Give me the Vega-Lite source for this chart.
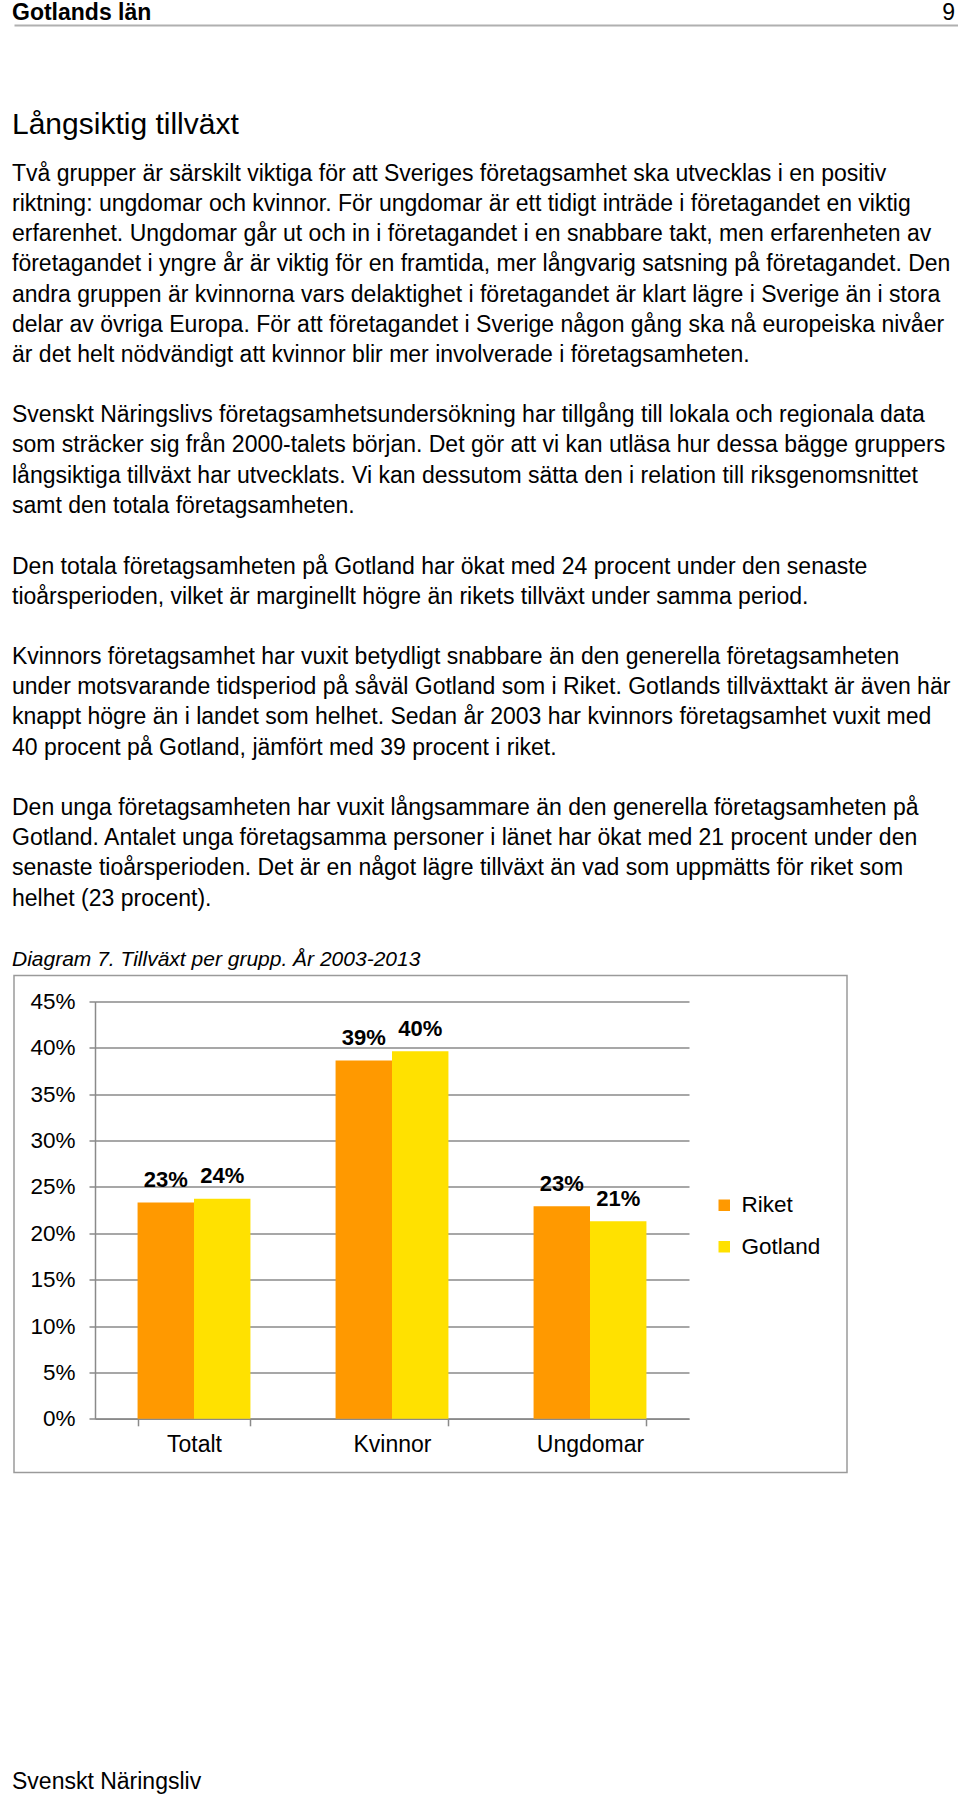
{
  "$schema": "https://vega.github.io/schema/vega-lite/v6.json",
  "background": "white",
  "padding": {"left": 11, "top": 0, "right": 0, "bottom": 0},
  "spacing": 85,
  "config": {
    "font": "Liberation Sans",
    "view": {"stroke": null},
    "title": {"font": "Liberation Sans", "color": "black", "fontWeight": "normal", "anchor": "start", "baseline": "top", "offset": 0}
  },
  "vconcat": [
    {
      "width": 944,
      "height": 25,
      "data": {"values": [{"side": "left", "label": "Gotlands län"}, {"side": "right", "label": "9"}]},
      "encoding": {
        "x": {
          "field": "side", "type": "nominal",
          "scale": {"type": "point", "domain": ["left", "right"], "padding": 0},
          "axis": {"orient": "bottom", "labels": false, "ticks": false, "grid": false, "domain": true, "domainColor": "#b0b0b0", "domainWidth": 2, "title": null}
        },
        "text": {"field": "label"}
      },
      "layer": [
        {"transform": [{"filter": "datum.side === 'left'"}], "mark": {"type": "text", "align": "left", "baseline": "middle", "fontWeight": "bold", "fontSize": 23, "color": "black", "dx": -2}},
        {"transform": [{"filter": "datum.side === 'right'"}], "mark": {"type": "text", "align": "right", "baseline": "middle", "fontSize": 23, "color": "black", "dx": -3}}
      ]
    },
    {
      "spacing": 31.9,
      "vconcat": [
        {
          "width": 944,
          "height": 1,
          "title": {
            "text": "Långsiktig tillväxt",
            "fontSize": 30,
            "dx": -2,
            "subtitle": [
              "Två grupper är särskilt viktiga för att Sveriges företagsamhet ska utvecklas i en positiv",
              "riktning: ungdomar och kvinnor. För ungdomar är ett tidigt inträde i företagandet en viktig",
              "erfarenhet. Ungdomar går ut och in i företagandet i en snabbare takt, men erfarenheten av",
              "företagandet i yngre år är viktig för en framtida, mer långvarig satsning på företagandet. Den",
              "andra gruppen är kvinnorna vars delaktighet i företagandet är klart lägre i Sverige än i stora",
              "delar av övriga Europa. För att företagandet i Sverige någon gång ska nå europeiska nivåer",
              "är det helt nödvändigt att kvinnor blir mer involverade i företagsamheten."
            ],
            "subtitleFont": "Liberation Sans",
            "subtitleFontSize": 23,
            "subtitleColor": "black",
            "subtitleLineHeight": 30.24,
            "subtitlePadding": 22.5
          },
          "data": {"values": []},
          "mark": "rect"
        },
        {
          "width": 944,
          "height": 1,
          "title": {
            "text": [
              "Svenskt Näringslivs företagsamhetsundersökning har tillgång till lokala och regionala data",
              "som sträcker sig från 2000-talets början. Det gör att vi kan utläsa hur dessa bägge gruppers",
              "långsiktiga tillväxt har utvecklats. Vi kan dessutom sätta den i relation till riksgenomsnittet",
              "samt den totala företagsamheten."
            ],
            "fontSize": 23, "lineHeight": 30.24, "dx": -2
          },
          "data": {"values": []},
          "mark": "rect"
        },
        {
          "width": 944,
          "height": 1,
          "title": {
            "text": [
              "Den totala företagsamheten på Gotland har ökat med 24 procent under den senaste",
              "tioårsperioden, vilket är marginellt högre än rikets tillväxt under samma period."
            ],
            "fontSize": 23, "lineHeight": 30.24, "dx": -2
          },
          "data": {"values": []},
          "mark": "rect"
        },
        {
          "width": 944,
          "height": 1,
          "title": {
            "text": [
              "Kvinnors företagsamhet har vuxit betydligt snabbare än den generella företagsamheten",
              "under motsvarande tidsperiod på såväl Gotland som i Riket. Gotlands tillväxttakt är även här",
              "knappt högre än i landet som helhet. Sedan år 2003 har kvinnors företagsamhet vuxit med",
              "40 procent på Gotland, jämfört med 39 procent i riket."
            ],
            "fontSize": 23, "lineHeight": 30.24, "dx": -2
          },
          "data": {"values": []},
          "mark": "rect"
        },
        {
          "width": 944,
          "height": 1,
          "title": {
            "text": [
              "Den unga företagsamheten har vuxit långsammare än den generella företagsamheten på",
              "Gotland. Antalet unga företagsamma personer i länet har ökat med 21 procent under den",
              "senaste tioårsperioden. Det är en något lägre tillväxt än vad som uppmätts för riket som",
              "helhet (23 procent)."
            ],
            "fontSize": 23, "lineHeight": 30.24, "dx": -2
          },
          "data": {"values": []},
          "mark": "rect"
        },
        {
          "width": 833,
          "height": 497,
          "view": {"stroke": "#9a9a9a", "strokeWidth": 1.5},
          "title": {
            "text": "Diagram 7. Tillväxt per grupp. År 2003-2013",
            "fontSize": 21,
            "fontStyle": "italic",
            "offset": 6,
            "dx": -2
          },
          "data": {
            "values": [
              {"grupp": "Totalt", "serie": "Riket", "tillvaxt": 0.233},
              {"grupp": "Totalt", "serie": "Gotland", "tillvaxt": 0.237},
              {"grupp": "Kvinnor", "serie": "Riket", "tillvaxt": 0.386},
              {"grupp": "Kvinnor", "serie": "Gotland", "tillvaxt": 0.396},
              {"grupp": "Ungdomar", "serie": "Riket", "tillvaxt": 0.229},
              {"grupp": "Ungdomar", "serie": "Gotland", "tillvaxt": 0.213}
            ]
          },
          "encoding": {
            "x": {
              "field": "grupp", "type": "nominal",
              "sort": ["Totalt", "Kvinnor", "Ungdomar"],
              "scale": {"domain": ["Totalt", "Kvinnor", "Ungdomar"], "range": [81, 675], "paddingInner": 0.43, "paddingOuter": 0.215},
              "axis": {
                "orient": "bottom", "offset": -53.7, "title": null, "labelAngle": 0,
                "labelFont": "Liberation Sans", "labelFontSize": 23, "labelColor": "black", "labelPadding": 8,
                "ticks": true, "tickBand": "extent", "tickSize": 7, "tickColor": "#8a8a8a", "tickWidth": 1.5,
                "domainColor": "#8a8a8a", "domainWidth": 1.5, "grid": false
              }
            },
            "xOffset": {"field": "serie", "type": "nominal", "sort": ["Riket", "Gotland"], "scale": {"paddingInner": 0, "paddingOuter": 0}},
            "y": {
              "field": "tillvaxt", "type": "quantitative",
              "scale": {"domain": [0, 0.45], "range": [443.3, 25.7], "nice": false, "zero": true},
              "axis": {
                "orient": "left", "offset": -81, "title": null,
                "values": [0, 0.05, 0.1, 0.15, 0.2, 0.25, 0.3, 0.35, 0.4, 0.45],
                "format": ".0%",
                "labelFont": "Liberation Sans", "labelFontSize": 22.5, "labelColor": "black", "labelPadding": 14,
                "ticks": true, "tickSize": 6, "tickColor": "#8a8a8a", "tickWidth": 1.5,
                "domainColor": "#8a8a8a", "domainWidth": 1.5,
                "grid": true, "gridColor": "#8a8a8a", "gridWidth": 1.5
              }
            }
          },
          "layer": [
            {
              "mark": {"type": "bar"},
              "encoding": {
                "color": {
                  "field": "serie", "type": "nominal",
                  "scale": {"domain": ["Riket", "Gotland"], "range": ["#FF9900", "#FFE100"]},
                  "legend": {
                    "orient": "none", "legendX": 699, "legendY": 1194, "title": null,
                    "symbolType": "square", "symbolSize": 132, "symbolStrokeWidth": 0,
                    "labelFont": "Liberation Sans", "labelFontSize": 22.5, "labelColor": "black",
                    "labelOffset": 6, "rowPadding": 18.5, "padding": 0
                  }
                }
              }
            },
            {
              "mark": {"type": "text", "baseline": "alphabetic", "dy": -15.5, "fontSize": 22, "fontWeight": "bold", "color": "black"},
              "encoding": {"text": {"field": "tillvaxt", "type": "quantitative", "format": ".0%"}}
            }
          ]
        }
      ]
    },
    {
      "width": 944,
      "height": 212,
      "title": {"text": "Svenskt Näringsliv", "orient": "bottom", "fontSize": 23, "offset": 0, "dx": -2},
      "data": {"values": []},
      "mark": "rect"
    }
  ]
}
